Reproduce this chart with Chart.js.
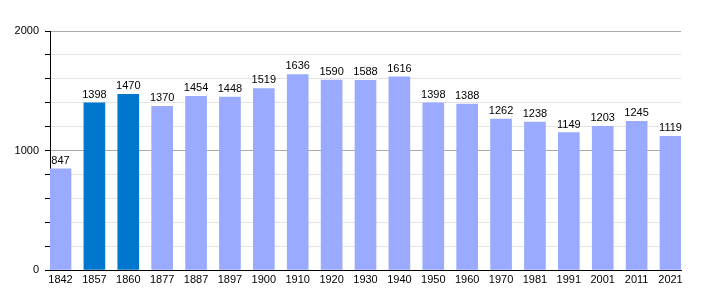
<!DOCTYPE html>
<html>
<head>
<meta charset="utf-8">
<script src="https://cdn.jsdelivr.net/npm/chart.js@4/dist/chart.umd.min.js"></script>
<style>
html,body{margin:0;padding:0;background:#fff;}
#wrap{width:710px;height:300px;position:relative;}
</style>
</head>
<body>
<div id="wrap"><canvas id="c" width="710" height="300"></canvas></div>
<script>
const years = ['1842','1857','1860','1877','1887','1897','1900','1910','1920','1930','1940','1950','1960','1970','1981','1991','2001','2011','2021'];
const population = [847,1398,1470,1370,1454,1448,1519,1636,1590,1588,1616,1398,1388,1262,1238,1149,1203,1245,1119];
const highlighted = ['1857','1860'];
const yTickLabels = [0,1000,2000];

const lightColor = '#99aaff';
const darkColor = '#0077cc';

const valueLabels = {
  id: 'valueLabels',
  afterDatasetsDraw(chart) {
    const ctx = chart.ctx;
    const meta = chart.getDatasetMeta(0);
    ctx.save();
    ctx.font = '11px "Liberation Sans", Arial, sans-serif';
    ctx.fillStyle = '#000';
    ctx.textAlign = 'center';
    ctx.textBaseline = 'alphabetic';
    meta.data.forEach((el, i) => {
      ctx.fillText(String(population[i]), el.x, el.y - 5);
    });
    ctx.restore();
  }
};

new Chart(document.getElementById('c'), {
  type: 'bar',
  data: {
    datasets: [{
      data: population.map((v, i) => ({x: i, y: v})),
      backgroundColor: years.map(y => highlighted.includes(y) ? darkColor : lightColor),
      barThickness: 21,
      borderWidth: 0
    }]
  },
  options: {
    responsive: false,
    animation: false,
    layout: {padding: {left: 0, right: 29, top: 31, bottom: 0}},
    plugins: {legend: {display: false}, tooltip: {enabled: false}},
    scales: {
      x: {
        type: 'linear',
        offset: false,
        min: -0.31,
        max: years.length - 1 + 0.31,
        afterBuildTicks(scale) {
          scale.ticks = years.map((y, i) => ({value: i}));
        },
        afterFit(scale) { scale.height = 30; },
        grid: {display: false, drawTicks: false, offset: false},
        border: {display: true, color: '#000', width: 1},
        ticks: {
          autoSkip: false,
          maxRotation: 0,
          padding: 3,
          color: '#000',
          font: {family: '"Liberation Sans", Arial, sans-serif', size: 11},
          callback: (v) => years[v]
        }
      },
      y: {
        min: 0,
        max: 2000,
        afterFit(scale) { scale.width = 50; },
        ticks: {
          stepSize: 200,
          autoSkip: false,
          padding: 6,
          color: '#000',
          font: {family: '"Liberation Sans", Arial, sans-serif', size: 11},
          callback: (v) => yTickLabels.includes(v) ? String(v) : ''
        },
        grid: {
          drawTicks: true,
          tickLength: 5,
          color: (c) => (c.tick && c.tick.value % 1000 === 0 && c.tick.value !== 0) ? '#aaaaaa' : '#e4e4e4',
          tickColor: '#000',
          lineWidth: 1
        },
        border: {display: true, color: '#000', width: 1}
      }
    }
  },
  plugins: [valueLabels]
});
</script>
</body>
</html>
